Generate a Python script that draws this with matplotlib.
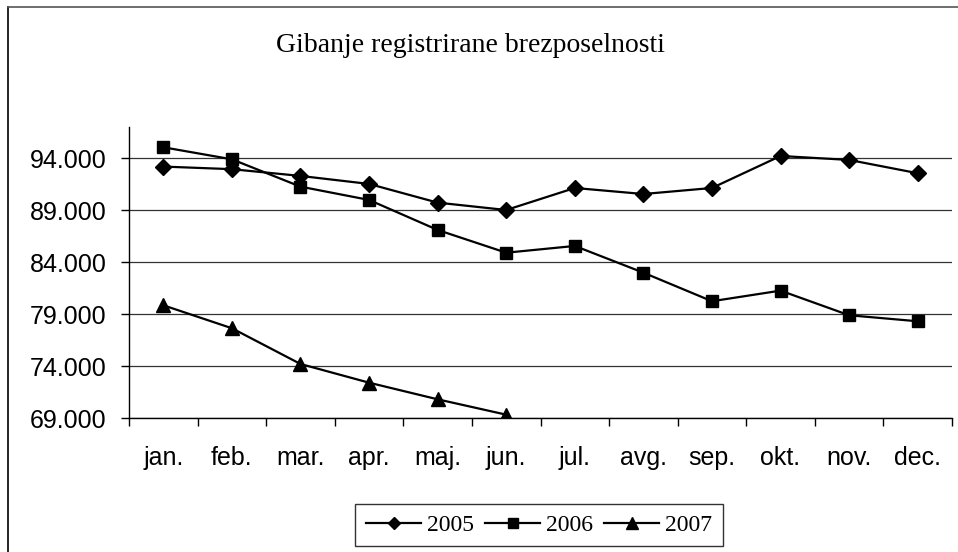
import matplotlib
matplotlib.use("Agg")
import matplotlib.pyplot as plt
from matplotlib.lines import Line2D

months = ["jan.", "feb.", "mar.", "apr.", "maj.", "jun.", "jul.", "avg.", "sep.", "okt.", "nov.", "dec."]
y2005 = [93200, 92950, 92300, 91530, 89730, 89020, 91140, 90560, 91140, 94220, 93840, 92560]
y2006 = [95060, 93900, 91270, 89990, 87100, 84910, 85560, 82990, 80240, 81260, 78890, 78310]
y2007 = [79850, 77640, 74200, 72400, 70800, 69320]
yticks = [69000, 74000, 79000, 84000, 89000, 94000]
ytick_labels = ["69.000", "74.000", "79.000", "84.000", "89.000", "94.000"]
series_names = ["2005", "2006", "2007"]
title = "Gibanje registrirane brezposelnosti"

fig = plt.figure(figsize=(9.58, 5.52), dpi=100)
ax = fig.add_axes([129/958, 1-418/552, (952-129)/958, (418-127.1)/552])

x = list(range(len(months)))
ax.plot(x, y2005, color="black", lw=1.6, marker="D", ms=8.5, mfc="black", mec="black")
ax.plot(x, y2006, color="black", lw=1.6, marker="s", ms=9, mfc="black", mec="black")
ax.plot(x[:len(y2007)], y2007, color="black", lw=1.6, marker="^", ms=10, mfc="black", mec="black")

ax.set_xlim(-0.5, len(months) - 0.5)
ax.set_ylim(69000, 97000)
ax.set_yticks(yticks)
ax.set_yticklabels(ytick_labels, fontfamily="Liberation Sans", fontsize=18)
ax.set_xticks(x)
ax.set_xticklabels(months, fontfamily="Liberation Sans", fontsize=18)
ax.tick_params(axis="x", length=0, pad=20)
ax.set_xticks([i - 0.5 for i in range(len(months) + 1)], minor=True)
ax.tick_params(axis="x", which="minor", length=6, width=1, direction="out")
ax.tick_params(axis="y", length=6, width=1, direction="out", pad=10)
ax.yaxis.grid(True, color="#333333", lw=0.9)
ax.set_axisbelow(True)
for s in ["top", "right"]:
    ax.spines[s].set_visible(False)
for s in ["left", "bottom"]:
    ax.spines[s].set_color("black")
    ax.spines[s].set_linewidth(1)

fig.text(470/958, 1-45/552, title, ha="center", va="center",
         fontfamily="Liberation Serif", fontsize=20)

handles = [Line2D([], [], color="black", lw=1.6, marker=m, ms=ms)
           for m, ms in zip(["D", "s", "^"], [6.5, 7, 8])]
leg = fig.legend(handles, series_names, loc="center",
                 bbox_to_anchor=(539/958, 1-525/552), ncol=3,
                 prop={"family": "Liberation Serif", "size": 17},
                 frameon=True, fancybox=False, edgecolor="black",
                 handlelength=2.35, handletextpad=0.25, columnspacing=0.45,
                 borderpad=0.45)
leg.get_frame().set_linewidth(1)

# outer chart frame (left and top edges visible)
fig.add_artist(Line2D([8/958, 8/958], [0, 1-7/552], transform=fig.transFigure, color="black", lw=1.2))
fig.add_artist(Line2D([8/958, 1], [1-7/552, 1-7/552], transform=fig.transFigure, color="#555555", lw=1.2))

fig.savefig("out.png", dpi=100)
